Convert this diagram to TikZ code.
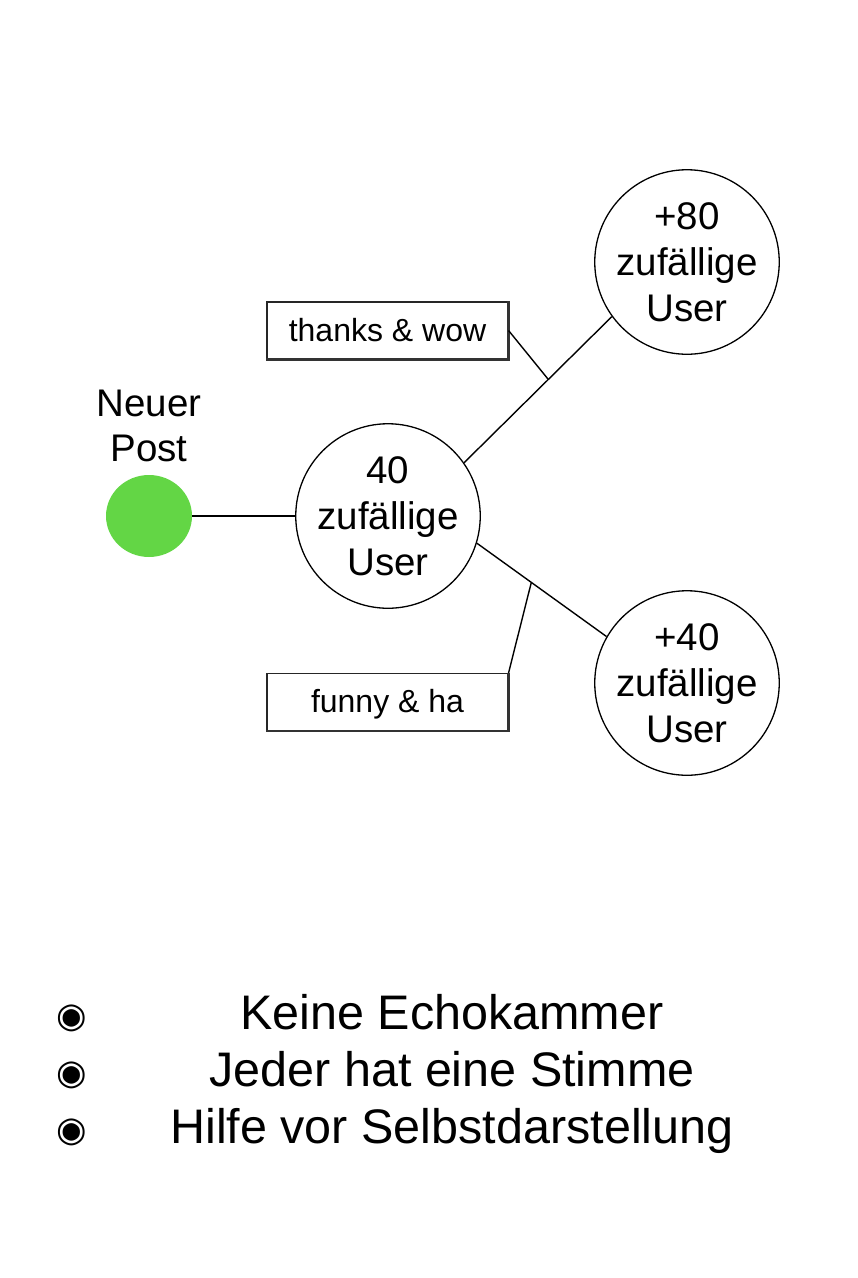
\documentclass[tikz,border=0pt]{standalone}
\usepackage{fontspec}
\usetikzlibrary{shapes.geometric}
\setmainfont{Liberation Sans}
\newfontfamily\symfont{DejaVu Sans}
\definecolor{postgreen}{HTML}{63D645}
\begin{document}
\begin{tikzpicture}[x=1pt,y=-1pt,
  usercircle/.style={draw=black,line width=1.3pt,circle,minimum size=178pt,inner sep=0pt,align=center,font=\fontsize{38.5}{46}\selectfont},
  conn/.style={draw=black,line width=1.4pt},
  labelbox/.style={draw=black!85,line width=1.1pt,minimum width=241pt,minimum height=57pt,inner sep=0pt,font=\fontsize{32}{38}\selectfont},
  bigtext/.style={font=\fontsize{48.5}{56}\selectfont,anchor=base},
  bullet/.style={font=\symfont\fontsize{35}{40}\selectfont,anchor=base}]
\useasboundingbox (0,0) rectangle (858,1278);
% green post node
\node[fill=postgreen,ellipse,minimum width=86pt,minimum height=82pt,inner sep=0pt] (post) at (149,516) {};
\node[align=center,font=\fontsize{38.5}{45}\selectfont] (posttxt) at (149,426) {Neuer\\Post};
% user circles
\node[usercircle] (c40) at (388,516) {40\\zufällige\\User};
\node[usercircle] (c80) at (687,262) {+80\\zufällige\\User};
\node[usercircle,minimum size=174pt] (c40b) at (687,683) {+40\\zufällige\\User};
% connectors
\draw[conn] (post) -- (c40);
\draw[conn] (c40.35) -- (c80.216) coordinate[pos=0.57] (mtop);
\draw[conn] (c40.-17) -- (c40b.150) coordinate[pos=0.42] (mbot);
% label boxes
\node[labelbox] (thanks) at (387.5,330.5) {thanks \& wow};
\node[labelbox,text depth=0.22em] (funny) at (387.5,702) {funny \& ha};
\draw[black!80,line width=2.2pt] (thanks.north east) -- (thanks.south east) -- (thanks.south west);
\draw[black!80,line width=2.2pt] (funny.north east) -- (funny.south east) -- (funny.south west);
\draw[conn] (thanks.east) -- (mtop);
\draw[conn] (funny.north east) -- (mbot);
% bullet list
\node[bullet] (b1) at (72,1027) {◉};
\node[bullet] (b2) at (72,1084) {◉};
\node[bullet] (b3) at (72,1141) {◉};
\node[bigtext] (t1) at (452,1029) {Keine Echokammer};
\node[bigtext] (t2) at (452,1086) {Jeder hat eine Stimme};
\node[bigtext] (t3) at (452,1143) {Hilfe vor Selbstdarstellung};
\end{tikzpicture}
\end{document}
